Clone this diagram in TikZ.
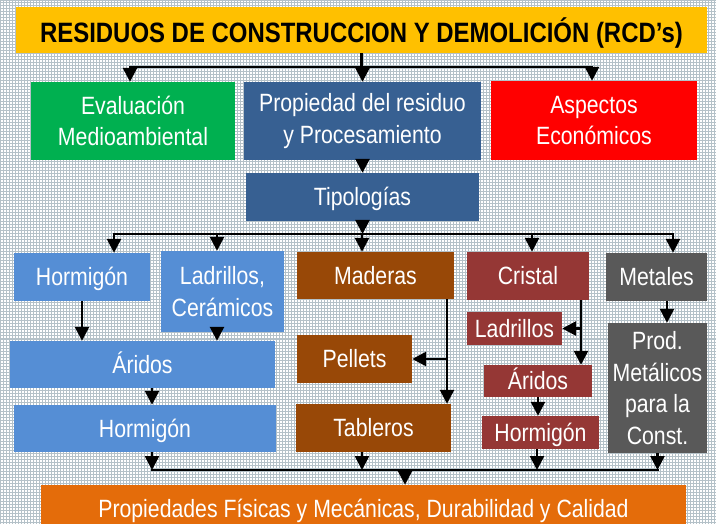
\documentclass[tikz,border=0pt]{standalone}
\usepackage{fontspec}
\setmainfont{Liberation Sans}[FakeStretch=0.85]
\newfontfamily\titlefont{Liberation Sans}[FakeStretch=0.855]
\usetikzlibrary{arrows.meta}
\definecolor{titleyellow}{RGB}{255,192,0}
\definecolor{evalgreen}{RGB}{0,176,80}
\definecolor{propblue}{RGB}{55,96,146}
\definecolor{econred}{RGB}{255,0,0}
\definecolor{hormblue}{RGB}{85,142,213}
\definecolor{maderabrown}{RGB}{152,72,7}
\definecolor{cristalred}{RGB}{149,55,53}
\definecolor{metalgray}{RGB}{89,89,89}
\definecolor{finalorange}{RGB}{228,108,10}
\definecolor{gridgray}{RGB}{180,193,200}

\begin{document}
\begin{tikzpicture}[x=1pt, y=-1pt,
	box/.style={shape=rectangle, inner sep=0pt, text=white, align=center,
		font=\fontsize{25}{31.5}\selectfont},
	boxsize/.style 2 args={minimum width=#1pt, minimum height=#2pt},
	oneline/.style={text height=17.9pt, text depth=0pt},
	link/.style={line width=2.6pt},
	bus/.style={line width=2.6pt, line cap=rect},
	arr/.style={line width=2.6pt, -{Triangle[width=14pt, length=14pt]}}]
	\useasboundingbox (0,0) rectangle (716,524);
	\fill [white] (0,0) rectangle (716,524);
	\draw [gridgray, line width=1pt] (0,0) grid[step=3pt] (716,524);

	\draw (361.5,30) node[shape=rectangle,
					 inner sep=0pt,
					 fill=titleyellow,
					 boxsize={691}{46},
					 font=\titlefont\fontsize{28}{30}\selectfont\bfseries,
					 text height=25.5pt,
					 text depth=0pt](title){RESIDUOS DE CONSTRUCCION Y DEMOLICIÓN (RCD’s)};

	\draw (133,121) node[box, fill=evalgreen, boxsize={204}{78}](eval){Evaluación\\Medioambiental};
	\draw (362.5,121) node[box, fill=propblue, boxsize={237}{78}](prop){Propiedad del residuo\\y Procesamiento};
	\draw (594,120.5) node[box, fill=econred, boxsize={206}{79}](econ){Aspectos\\Económicos};
	\draw (362.5,197) node[box, oneline, fill=propblue, boxsize={233}{48}](tipo){Tipologías};

	\draw (82,277) node[box, oneline, fill=hormblue, boxsize={136}{48}](hormA){Hormigón};
	\draw (222.5,291.5) node[box, fill=hormblue, boxsize={123}{81}](ladA){Ladrillos,\\Cerámicos};
	\draw (142.5,364.5) node[box, oneline, fill=hormblue, boxsize={265}{47}](aridA){Áridos};
	\draw (145,428.5) node[box, oneline, fill=hormblue, boxsize={262}{47}](hormB){Hormigón};

	\draw (375.5,275.5) node[box, oneline, fill=maderabrown, boxsize={157}{47}](mader){Maderas};
	\draw (354.5,359) node[box, oneline, fill=maderabrown, boxsize={115}{48}](pell){Pellets};
	\draw (373.5,428) node[box, oneline, fill=maderabrown, boxsize={155}{48}](table){Tableros};

	\draw (528,276) node[box, oneline, fill=cristalred, boxsize={122}{48}](crist){Cristal};
	\draw (514.5,328.5) node[box, oneline, fill=cristalred, boxsize={95}{33}](ladC){Ladrillos};
	\draw (538,381) node[box, oneline, fill=cristalred, boxsize={108}{32}](aridC){Áridos};
	\draw (540.5,432.5) node[box, oneline, fill=cristalred, boxsize={117}{33}](hormC){Hormigón};

	\draw (656.5,277) node[box, oneline, fill=metalgray, boxsize={101}{48}](metal){Metales};
	\draw (657.5,388) node[box, fill=metalgray, boxsize={99}{130}](prodM){Prod.\\Metálicos\\para la\\Const.};

	\draw (363.5,508.5) node[box, oneline, fill=finalorange, boxsize={645}{47}](final){Propiedades Físicas y Mecánicas, Durabilidad y Calidad};

	\coordinate (topbus) at (361,67);
	\coordinate (typebus) at (362,234);
	\coordinate (basebus) at (405,470);

	\draw [link](title.south) -- (title.south |- topbus);
	\draw [bus]([xshift=-3pt]eval.north |- topbus) -- ([xshift=-2pt]econ.north |- topbus);
	\draw [arr]([xshift=-3pt]eval.north |- topbus) -- ([xshift=-3pt]eval.north);
	\draw [arr](prop.north |- topbus) -- (prop.north);
	\draw [arr]([xshift=-2pt]econ.north |- topbus) -- ([xshift=-2pt]econ.north);

	\draw [arr](prop.south) -- (tipo.north);
	\draw [arr](tipo.south) -- (tipo.south |- typebus);
	\draw [bus]([xshift=32pt]hormA.north |- typebus) -- ([xshift=16.5pt]metal.north |- typebus);
	\draw [arr]([xshift=32pt]hormA.north |- typebus) -- ([xshift=32pt]hormA.north);
	\draw [arr]([xshift=-5.5pt]ladA.north |- typebus) -- ([xshift=-5.5pt]ladA.north);
	\draw [arr]([xshift=-13.5pt]mader.north |- typebus) -- ([xshift=-13.5pt]mader.north);
	\draw [arr]([xshift=4pt]crist.north |- typebus) -- ([xshift=4pt]crist.north);
	\draw [arr]([xshift=16.5pt]metal.north |- typebus) -- ([xshift=16.5pt]metal.north);

	\draw [arr](hormA.south) -- (hormA.south |- aridA.north);
	\draw [arr]([xshift=-5.5pt]ladA.south) -- ([xshift=-5.5pt]ladA.south |- aridA.north);
	\draw [arr]([xshift=9.5pt]aridA.south) -- ([xshift=9.5pt]aridA.south |- hormB.north);

	\draw [arr]([xshift=71.5pt]mader.south) -- ([xshift=71.5pt]mader.south |- table.north);
	\draw [arr]([xshift=71.5pt]mader.south |- pell.east) -- (pell.east);

	\draw [arr]([xshift=53pt]crist.south) -- ([xshift=53pt]crist.south |- aridC.north);
	\draw [arr]([xshift=53pt]crist.south |- ladC.east) -- (ladC.east);
	\draw [arr](aridC.south) -- (aridC.south |- hormC.north);

	\draw [arr]([xshift=10.5pt]metal.south) -- ([xshift=10.5pt]metal.south |- prodM.north);

	\draw [arr]([xshift=7pt]hormB.south) -- ([xshift=7pt]hormB.south |- basebus);
	\draw [arr]([xshift=-11.5pt]table.south) -- ([xshift=-11.5pt]table.south |- basebus);
	\draw [arr]([xshift=-3.5pt]hormC.south) -- ([xshift=-3.5pt]hormC.south |- basebus);
	\draw [arr](prodM.south) -- (prodM.south |- basebus);
	\draw [bus]([xshift=7pt]hormB.south |- basebus) -- (prodM.south |- basebus);
	\draw [arr](basebus) -- (basebus |- final.north);
\end{tikzpicture}
\end{document}
